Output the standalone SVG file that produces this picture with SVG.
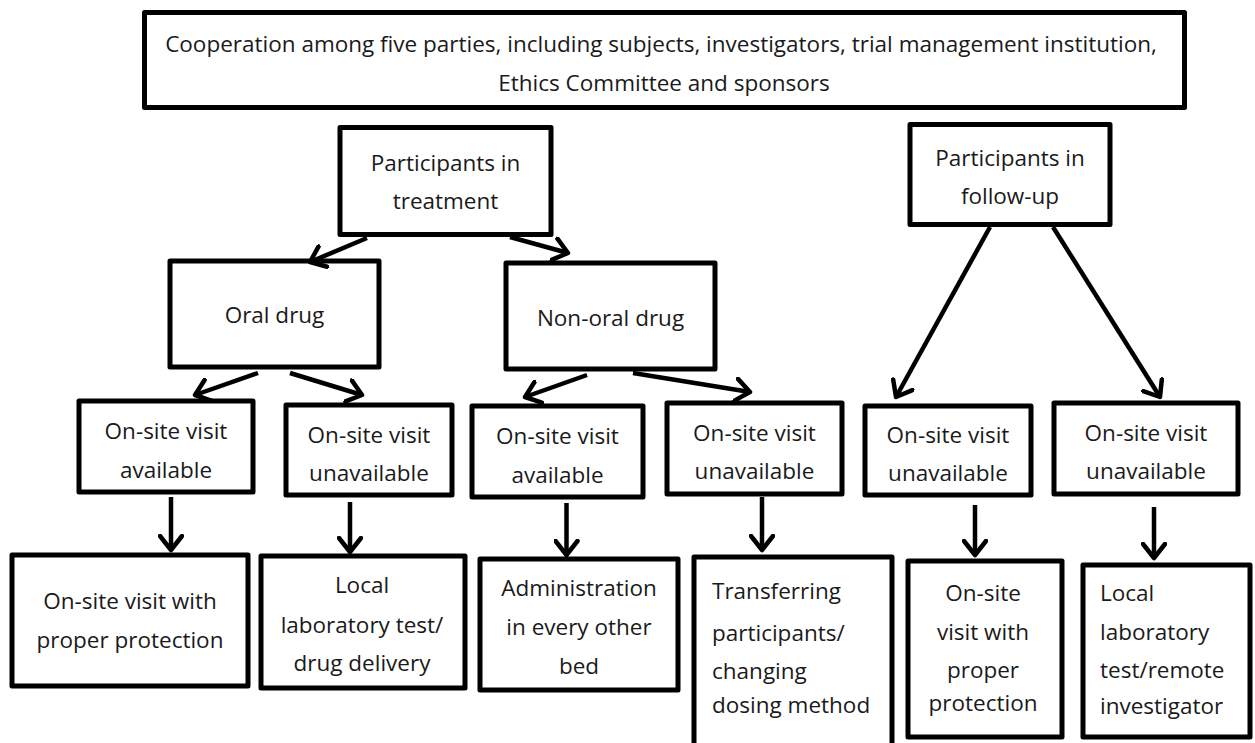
<svg xmlns="http://www.w3.org/2000/svg" width="1255" height="743" viewBox="0 0 1255 743">
<defs>
<style>
.box{fill:#fff;stroke:#000;stroke-width:5;stroke-linejoin:round}
.t{font-family:"Open Sans","Liberation Sans",sans-serif;font-size:22.5px;fill:#1a1a1a;text-anchor:middle}
.l{text-anchor:start}
.c{fill:none;stroke:#000;stroke-width:4.5;stroke-linecap:butt}
</style>
<marker id="ah" viewBox="-16 -13 20 26" refX="0" refY="0" markerWidth="20" markerHeight="26" markerUnits="userSpaceOnUse" orient="auto">
<path d="M -14 -11 L 0 0 L -14 11" fill="none" stroke="#000" stroke-width="4.5" stroke-linejoin="round" stroke-linecap="round"/>
</marker>
</defs>
<rect width="1255" height="743" fill="#fff"/>

<g id="top">
<rect class="box" x="144.5" y="12.5" width="1040" height="95"/>
<text class="t" x="661" y="51.5">Cooperation among five parties, including subjects, investigators, trial management institution,</text>
<text class="t" x="664" y="91">Ethics Committee and sponsors</text>
</g>

<g id="treatment">
<rect class="box" x="340" y="127.5" width="211" height="107"/>
<text class="t" x="445.5" y="170.5">Participants in</text>
<text class="t" x="445.5" y="208.5">treatment</text>
</g>

<g id="followup">
<rect class="box" x="910" y="124.5" width="200" height="100"/>
<text class="t" x="1010" y="165.5">Participants in</text>
<text class="t" x="1010" y="203.5">follow-up</text>
</g>

<g id="oral">
<rect class="box" x="170" y="261" width="209" height="106"/>
<text class="t" x="274.5" y="322.5">Oral drug</text>
</g>

<g id="nonoral">
<rect class="box" x="506" y="263" width="209" height="106"/>
<text class="t" x="610.5" y="325.5">Non-oral drug</text>
</g>

<g id="oral-avail">
<rect class="box" x="79" y="401" width="174" height="91"/>
<text class="t" x="166" y="438.5">On-site visit</text>
<text class="t" x="166" y="477.5">available</text>
</g>

<g id="oral-unavail">
<rect class="box" x="286" y="405" width="166" height="90"/>
<text class="t" x="369" y="442.5">On-site visit</text>
<text class="t" x="369" y="480.5">unavailable</text>
</g>

<g id="nonoral-avail">
<rect class="box" x="472" y="406" width="171" height="91"/>
<text class="t" x="557.5" y="443.5">On-site visit</text>
<text class="t" x="557.5" y="482.5">available</text>
</g>

<g id="nonoral-unavail">
<rect class="box" x="667" y="403" width="175" height="91"/>
<text class="t" x="754.5" y="440.5">On-site visit</text>
<text class="t" x="754.5" y="478.5">unavailable</text>
</g>

<g id="fu-unavail-1">
<rect class="box" x="865" y="406" width="166" height="89"/>
<text class="t" x="948" y="442.5">On-site visit</text>
<text class="t" x="948" y="480.5">unavailable</text>
</g>

<g id="fu-unavail-2">
<rect class="box" x="1054" y="403" width="184" height="91"/>
<text class="t" x="1146" y="440.5">On-site visit</text>
<text class="t" x="1146" y="478.5">unavailable</text>
</g>

<g id="b1">
<rect class="box" x="12" y="555" width="236" height="131"/>
<text class="t" x="130" y="608.5">On-site visit with</text>
<text class="t" x="130" y="647.5">proper protection</text>
</g>

<g id="b2">
<rect class="box" x="261" y="556" width="204" height="132"/>
<text class="t" x="362" y="592.5">Local</text>
<text class="t" x="362" y="632.5">laboratory test/</text>
<text class="t" x="362" y="670.5">drug delivery</text>
</g>

<g id="b3">
<rect class="box" x="480" y="559" width="198" height="131"/>
<text class="t" x="579" y="595.5">Administration</text>
<text class="t" x="579" y="634.5">in every other</text>
<text class="t" x="579" y="673.5">bed</text>
</g>

<g id="b4">
<rect class="box" x="694" y="557" width="198" height="192"/>
<text class="t l" x="712" y="598.5">Transferring</text>
<text class="t l" x="712" y="640.5">participants/</text>
<text class="t l" x="712" y="678.5">changing</text>
<text class="t l" x="712" y="712.5">dosing method</text>
</g>

<g id="b5">
<rect class="box" x="908" y="561" width="154" height="176"/>
<text class="t" x="983" y="600.5">On-site</text>
<text class="t" x="983" y="639.5">visit with</text>
<text class="t" x="983" y="677.5">proper</text>
<text class="t" x="983" y="710.5">protection</text>
</g>

<g id="b6">
<rect class="box" x="1083" y="565" width="167" height="172"/>
<text class="t l" x="1100" y="600.5">Local</text>
<text class="t l" x="1100" y="639.5">laboratory</text>
<text class="t l" x="1100" y="677.5">test/remote</text>
<text class="t l" x="1100" y="713.5">investigator</text>
</g>

<g id="connectors">
<line class="c" x1="367" y1="238" x2="310" y2="262" marker-end="url(#ah)"/>
<line class="c" x1="510" y1="237" x2="568" y2="253" marker-end="url(#ah)"/>
<line class="c" x1="990" y1="227" x2="896" y2="397" marker-end="url(#ah)"/>
<line class="c" x1="1053" y1="227" x2="1160" y2="397" marker-end="url(#ah)"/>
<line class="c" x1="258" y1="373" x2="195" y2="395" marker-end="url(#ah)"/>
<line class="c" x1="290" y1="373" x2="362" y2="395" marker-end="url(#ah)"/>
<line class="c" x1="587" y1="375" x2="525" y2="397" marker-end="url(#ah)"/>
<line class="c" x1="633" y1="373" x2="750" y2="392" marker-end="url(#ah)"/>
<line class="c" x1="171" y1="497" x2="171" y2="550" marker-end="url(#ah)"/>
<line class="c" x1="350" y1="502" x2="350" y2="552" marker-end="url(#ah)"/>
<line class="c" x1="566.5" y1="503" x2="566.5" y2="555" marker-end="url(#ah)"/>
<line class="c" x1="762" y1="497" x2="762" y2="550" marker-end="url(#ah)"/>
<line class="c" x1="975" y1="505" x2="975" y2="555" marker-end="url(#ah)"/>
<line class="c" x1="1154" y1="507" x2="1154" y2="558" marker-end="url(#ah)"/>
</g>
</svg>
